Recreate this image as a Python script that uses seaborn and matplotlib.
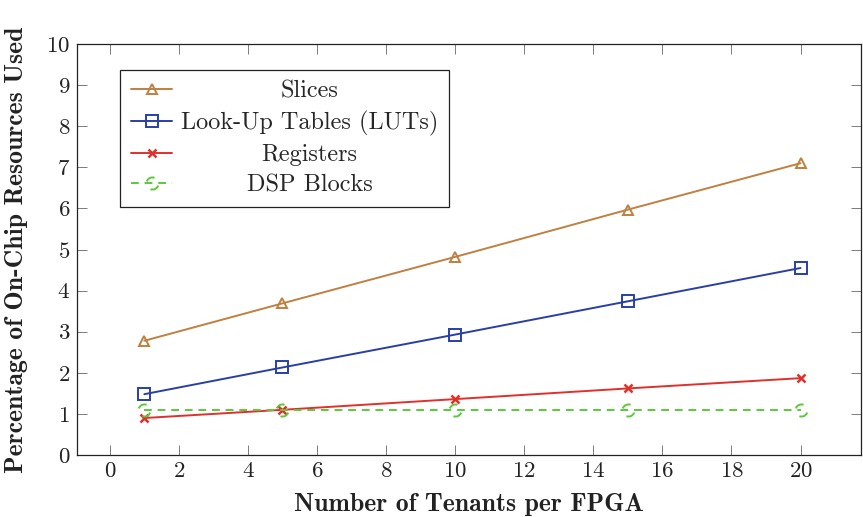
import matplotlib
matplotlib.use("Agg")
import matplotlib.pyplot as plt
import pandas as pd
import seaborn as sns
from matplotlib.path import Path

# data
tenants = [1, 5, 10, 15, 20]
slices = [2.78, 3.69, 4.82, 5.97, 7.10]
luts = [1.48, 2.13, 2.93, 3.74, 4.55]
registers = [0.90, 1.10, 1.36, 1.62, 1.87]
dsp_blocks = [1.10, 1.10, 1.10, 1.10, 1.10]

series_names = ["Slices", "Look-Up Tables (LUTs)", "Registers", "DSP Blocks"]
x_ticks = [0, 2, 4, 6, 8, 10, 12, 14, 16, 18, 20]
y_ticks = [0, 1, 2, 3, 4, 5, 6, 7, 8, 9, 10]


def dashed_circle():
    # circle marker drawn as two arcs, like a dashed pgfplots circle
    a = Path.arc(70, 160)
    b = Path.arc(250, 340)
    return Path.make_compound_path(a, b)


sns.set_theme(style="ticks")
plt.rcParams.update({
    "font.family": "serif",
    "font.serif": ["cmr10", "DejaVu Serif"],
    "mathtext.fontset": "cm",
    "axes.formatter.use_mathtext": True,
    "axes.edgecolor": "#222222",
    "axes.linewidth": 0.9,
    "xtick.direction": "in",
    "ytick.direction": "in",
    "xtick.top": True,
    "ytick.right": True,
    "xtick.color": "#666666",
    "ytick.color": "#666666",
    "xtick.labelcolor": "#222222",
    "ytick.labelcolor": "#222222",
})

df = pd.DataFrame({
    "tenants": tenants * 4,
    "value": slices + luts + registers + dsp_blocks,
    "series": [n for n in series_names for _ in tenants],
})

styles = {
    "Slices": dict(color="#bf8040", marker="^", ms=7.5, linestyle="-"),
    "Look-Up Tables (LUTs)": dict(color="#2a3fa6", marker="s", ms=8, linestyle="-"),
    "Registers": dict(color="#e0302c", marker="x", ms=6, mew=1.8, linestyle="-"),
    "DSP Blocks": dict(color="#5cc83c", marker=dashed_circle(), ms=9, linestyle=(0, (4, 3))),
}

fig = plt.figure(figsize=(8.63, 5.17), dpi=100)
ax = fig.add_axes([0.0892, 0.1199, 0.9085, 0.7950])

for name in series_names:
    st = dict(styles[name])
    sub = df[df["series"] == name]
    sns.lineplot(
        data=sub, x="tenants", y="value", ax=ax, label=name,
        color=st.pop("color"), linewidth=1.4,
        markerfacecolor="none",
        mew=st.pop("mew", 1.4), **st,
    )
    ax.lines[-1].set_markeredgecolor(ax.lines[-1].get_color())

ax.set_xlim(-0.95, 21.75)
ax.set_ylim(0, 10)
ax.set_xticks(x_ticks)
ax.set_yticks(y_ticks)
ax.tick_params(length=7.5, width=0.6, labelsize=16.5, pad=5)
ax.set_xlabel("Number of Tenants per FPGA", family="cmb10", fontsize=18.5, color="#222222", labelpad=8)
ax.set_ylabel("Percentage of On-Chip Resources Used", family="cmb10", fontsize=18.5, color="#222222")
ax.yaxis.set_label_coords(-0.063, 0.5)

leg = ax.legend(loc="upper left", bbox_to_anchor=(0.0548, 0.937), fontsize=17.5,
                frameon=True, fancybox=False, edgecolor="#222222", framealpha=1,
                handlelength=1.7, handletextpad=0.35, borderpad=0.45, labelspacing=0.33,
                borderaxespad=0)
leg.get_frame().set_linewidth(0.9)

# centre the legend labels in their column, as in the reference
renderer = fig.canvas.get_renderer()
widths = [t.get_window_extent(renderer).width for t in leg.get_texts()]
widest = max(widths)
for t, w in zip(leg.get_texts(), widths):
    t.set_position(((widest - w) / 2, 0))

fig.savefig("out.png", dpi=100)
